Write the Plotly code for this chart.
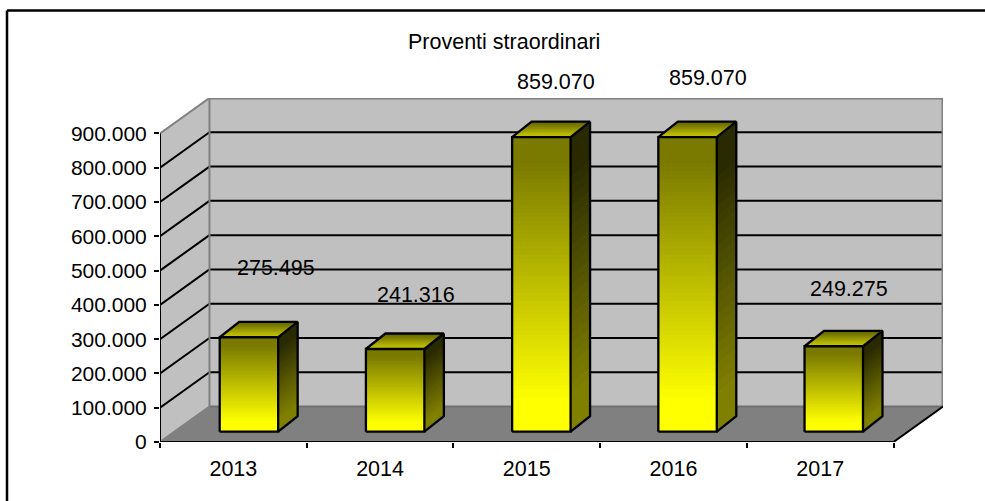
import plotly.graph_objects as go

# ---------- data ----------
categories = ["2013", "2014", "2015", "2016", "2017"]
values = [275495, 241316, 859070, 859070, 249275]
y_ticks = [0, 100000, 200000, 300000, 400000, 500000, 600000, 700000, 800000, 900000]
title_text = "Proventi straordinari"
label_offsets_px = [(27, -69), (21, -54), (15, -55), (20, -59), (15, -57)]

# ---------- geometry (pixels of the page -> data units) ----------
W, H = 985, 501
X0, Y0 = 160, 442            # origin of the front plane
UX = (894 - 160) / 5         # px per category
UY = 309 / 900000            # px per value unit
DEPTH_X, DEPTH_Y = 49.5 / UX, 35.5 / UY     # wall depth
SHIFT_Y = 10.3 / UY                         # bar front plane
FIRST_CENTER, PITCH = (249 - X0) / UX, 146.3 / UX
BAR_W = 58.5 / UX
BAR_DX, BAR_DY = 19.5 / UX, 15.5 / UY       # bar depth
YMAX = y_ticks[-1]
XMAX = len(categories)
FONT = "Liberation Sans"


def lerp(c0, c1, t):
    return "rgb(%d,%d,%d)" % tuple(round(a + (b - a) * t) for a, b in zip(c0, c1))


fig = go.Figure()
shapes = []


def poly(pts):
    return "M " + " L ".join(f"{x} {y}" for x, y in pts) + " Z"


def add_shape_line(x0, y0, x1, y1, color, width):
    shapes.append(dict(type="line", x0=x0, y0=y0, x1=x1, y1=y1, xref="x", yref="y",
                       line=dict(color=color, width=width), layer="below"))


# walls and floor
shapes.append(dict(type="path", xref="x", yref="y", layer="below", fillcolor="#c0c0c0", line_width=0,
                   path=poly([(DEPTH_X, DEPTH_Y), (XMAX + DEPTH_X, DEPTH_Y),
                              (XMAX + DEPTH_X, YMAX + DEPTH_Y), (DEPTH_X, YMAX + DEPTH_Y)])))
shapes.append(dict(type="path", xref="x", yref="y", layer="below", fillcolor="#c0c0c0", line_width=0,
                   path=poly([(0, 0), (DEPTH_X, DEPTH_Y), (DEPTH_X, YMAX + DEPTH_Y), (0, YMAX)])))
shapes.append(dict(type="path", xref="x", yref="y", layer="below", fillcolor="#808080", line_width=0,
                   path=poly([(0, 0), (DEPTH_X, DEPTH_Y), (XMAX + DEPTH_X, DEPTH_Y), (XMAX, 0)])))
# gridlines
for v in y_ticks[1:-1]:
    add_shape_line(0, v, DEPTH_X, v + DEPTH_Y, "black", 2)
    add_shape_line(DEPTH_X, v + DEPTH_Y, XMAX + DEPTH_X, v + DEPTH_Y, "black", 2)
# wall edges
G = "#808080"
add_shape_line(0, YMAX, DEPTH_X, YMAX + DEPTH_Y, G, 2)
add_shape_line(DEPTH_X, YMAX + DEPTH_Y, XMAX + DEPTH_X, YMAX + DEPTH_Y, G, 3)
add_shape_line(XMAX + DEPTH_X, YMAX + DEPTH_Y, XMAX + DEPTH_X, DEPTH_Y, G, 3)
add_shape_line(DEPTH_X, DEPTH_Y, DEPTH_X, YMAX + DEPTH_Y, G, 2)
add_shape_line(DEPTH_X, DEPTH_Y, XMAX + DEPTH_X, DEPTH_Y, "#707070", 2)
add_shape_line(0, 0, DEPTH_X, DEPTH_Y, G, 2)
# axis lines
add_shape_line(0, 0, 0, YMAX, "black", 2)
add_shape_line(0, 0, XMAX, 0, "black", 2)
add_shape_line(XMAX, 0, XMAX + DEPTH_X, DEPTH_Y, "black", 2)

# figure frame (runs off the page on the right and at the bottom)
shapes.append(dict(type="line", xref="paper", yref="paper",
                   x0=(7 - X0) / (943 - X0), x1=1.1, y0=(442 - 10.5) / (442 - 98), y1=(442 - 10.5) / (442 - 98),
                   line=dict(color="black", width=2.5), layer="above"))
shapes.append(dict(type="line", xref="paper", yref="paper",
                   x0=(7 - X0) / (943 - X0), x1=(7 - X0) / (943 - X0), y0=-0.3, y1=(442 - 10.5) / (442 - 98),
                   line=dict(color="black", width=2.5), layer="above"))

# ---------- bars ----------
N = 70
centers = [FIRST_CENTER + i * PITCH for i in range(len(values))]
bar_x, bar_base, bar_y, bar_c = [], [], [], []
OLIVE, YEL = (122, 122, 0), (255, 255, 0)
for cx, v in zip(centers, values):
    for k in range(N):
        t = k / (N - 1)                       # 0 bottom, 1 top
        f = min(1, max(0, (t - 0.1) / 0.82))
        lo = v * k / N
        bar_x.append(cx)
        bar_base.append(SHIFT_Y + lo)
        bar_y.append(v - lo)
        bar_c.append(lerp(YEL, OLIVE, f))
fig.add_trace(go.Bar(x=bar_x, y=bar_y, base=bar_base, width=BAR_W,
                     marker=dict(color=bar_c, line_width=0), hoverinfo="skip", showlegend=False))

SIDE_BOT, SIDE_TOP = (128, 128, 0), (42, 42, 0)
TOP_FRONT, TOP_BACK = (200, 200, 0), (100, 100, 0)
M = 30
for cx, v in zip(centers, values):
    xl, xr = cx - BAR_W / 2, cx + BAR_W / 2
    b, tp = SHIFT_Y, SHIFT_Y + v
    # side face, painted bottom-up
    for k in range(M):
        t = k / (M - 1)
        f = min(1, max(0, (t - 0.1) / 0.8))
        yy = b + v * k / M
        fig.add_trace(go.Scatter(
            x=[xr, xr + BAR_DX, xr + BAR_DX, xr, xr],
            y=[yy, yy + BAR_DY, tp + BAR_DY, tp, yy],
            mode="lines", fill="toself", fillcolor=lerp(SIDE_BOT, SIDE_TOP, f), line_width=0,
            hoverinfo="skip", showlegend=False, cliponaxis=False))
    # top face, painted front to back
    for k in range(12):
        t = k / 11
        u = k / 12
        fig.add_trace(go.Scatter(
            x=[xl + BAR_DX * u, xr + BAR_DX * u, xr + BAR_DX, xl + BAR_DX, xl + BAR_DX * u],
            y=[tp + BAR_DY * u, tp + BAR_DY * u, tp + BAR_DY, tp + BAR_DY, tp + BAR_DY * u],
            mode="lines", fill="toself", fillcolor=lerp(TOP_FRONT, TOP_BACK, t), line_width=0,
            hoverinfo="skip", showlegend=False, cliponaxis=False))
    # outlines
    fig.add_trace(go.Scatter(
        x=[xl, xr, xr, xl, xl, None, xl, xl + BAR_DX, xr + BAR_DX, xr, None,
           xr + BAR_DX, xr + BAR_DX, xr],
        y=[b, b, tp, tp, b, None, tp, tp + BAR_DY, tp + BAR_DY, tp, None,
           tp + BAR_DY, b + BAR_DY, b],
        mode="lines", line=dict(color="black", width=2.3), hoverinfo="skip",
        showlegend=False, cliponaxis=False))

# ---------- text ----------
annotations = [dict(text=title_text, xref="paper", yref="paper",
                    x=(504 - X0) / (943 - X0), y=(442 - 42) / (442 - 98),
                    xanchor="center", yanchor="middle",
                    showarrow=False, font=dict(family=FONT, size=21.5, color="black"))]
for i, v in enumerate(values):
    ox, oy = label_offsets_px[i]
    annotations.append(dict(
        text=f"{v:,}".replace(",", "."), x=centers[i], y=SHIFT_Y + v, xref="x", yref="y",
        xshift=ox, yshift=-oy, showarrow=False, xanchor="center", yanchor="middle",
        font=dict(family=FONT, size=21.5, color="black")))

fig.update_layout(
    width=W, height=H, autosize=False,
    margin=dict(l=X0, r=W - 943, t=98, b=H - Y0, pad=0),
    paper_bgcolor="white", plot_bgcolor="rgba(0,0,0,0)",
    barmode="overlay", shapes=shapes, annotations=annotations, showlegend=False,
    xaxis=dict(range=[0, XMAX + DEPTH_X], showgrid=False, zeroline=False, showline=False,
               tickmode="array", tickvals=[i + 0.5 for i in range(XMAX)], ticktext=categories,
               ticks="", ticklabelstandoff=11,
               tickfont=dict(family=FONT, size=21.5, color="black"),
               minor=dict(tickmode="array", tickvals=list(range(XMAX + 1)), ticks="outside",
                          ticklen=5, tickwidth=2, tickcolor="black", showgrid=False)),
    yaxis=dict(range=[0, YMAX + DEPTH_Y], showgrid=False, zeroline=False, showline=False,
               tickmode="array", tickvals=y_ticks,
               ticktext=[f"{v:,}".replace(",", ".") for v in y_ticks],
               ticks="outside", ticklen=5, tickwidth=2, tickcolor="black", ticklabelstandoff=3,
               tickfont=dict(family=FONT, size=21, color="black")),
)

fig.write_html("out.html", config={"displayModeBar": False},
               post_script="document.body.style.margin='0';document.body.style.overflow='hidden';")
